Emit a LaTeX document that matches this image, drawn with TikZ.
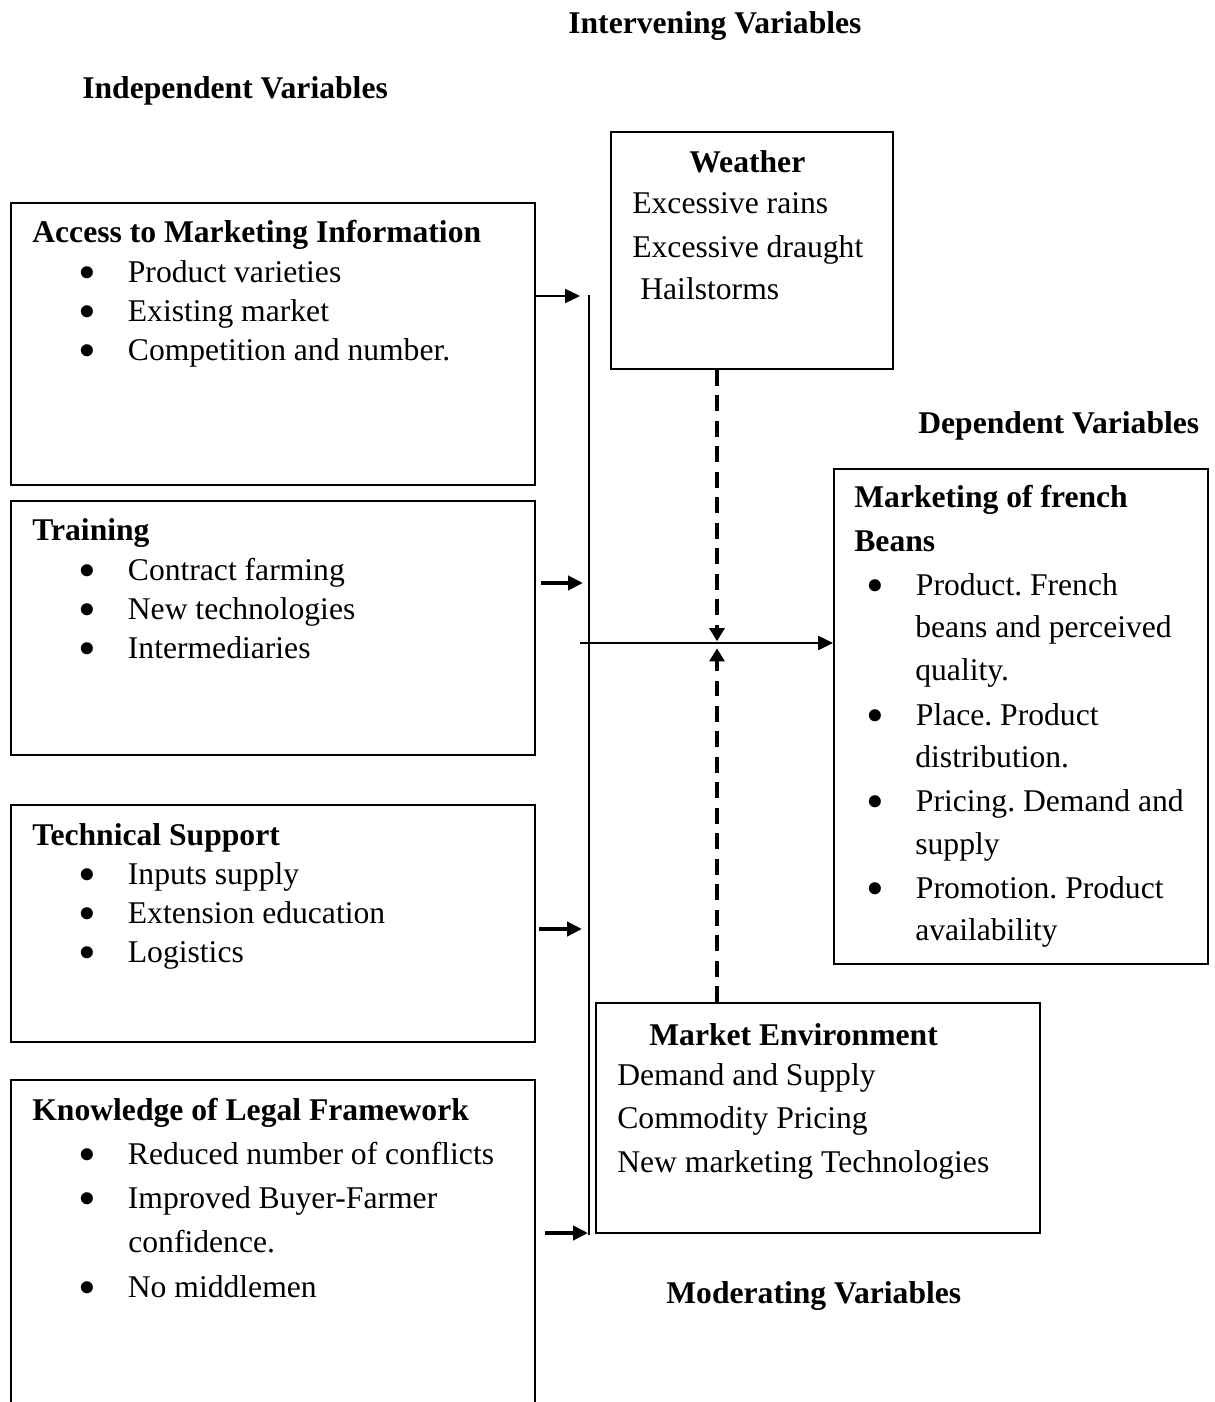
\documentclass[tikz,border=0pt]{standalone}
\usepackage{fontspec}
\usepackage{graphicx}
\setmainfont{Liberation Serif}
\usetikzlibrary{arrows.meta,fit}
\frenchspacing
\newcommand{\bul}{\makebox[26.5pt][l]{\hspace{-1.85pt}\smash{\raisebox{-4pt}{\scalebox{1.6}{\textbullet}}}}}

\begin{document}
\begin{tikzpicture}[x=0.02cm,y=-0.02cm,
		every node/.style={font=\fontsize{18}{22}\selectfont,inner sep=0pt},
		hd/.style={font=\fontsize{18}{22}\selectfont\bfseries},
		txt/.style={anchor=base west},
		box/.style={draw,line width=1.1pt},
		arr/.style={line width=1.1pt,-{Triangle[length=8.5pt,width=8pt]}},
		fat/.style={line width=2.3pt,-{Triangle[length=8.5pt,width=8pt]}},
		dsh/.style={line width=2.3pt,dash pattern=on 9pt off 5.5pt,-{Triangle[length=7.5pt,width=8.5pt]}}]
		\useasboundingbox (0,0) rectangle (1214,1402);

		% headings
		\node[hd,txt] (intv) at (568,34) {Intervening Variables};
		\node[hd,txt] (indv) at (82,99) {Independent Variables};
		\node[hd,txt] (depv) at (918,433) {Dependent Variables};
		\node[hd,txt] (modv) at (666,1303) {Moderating Variables};

		% boxes
		\node[box,fit={(11,203) (535,485)}] (access) {};
		\node[box,fit={(11,501) (535,755)}] (train) {};
		\node[box,fit={(11,805) (535,1042)}] (tech) {};
		\node[box,fit={(11,1080) (535,1440)}] (legal) {};
		\node[box,fit={(611,132) (893,369)}] (weather) {};
		\node[box,fit={(834,469) (1208,964)}] (depend) {};
		\node[box,fit={(596,1003) (1040,1233)}] (market) {};

		% access
		\node[hd,txt] (a0) at (32,242) {Access to Marketing Information};
		\node[txt] (a1) at (81,282) {\bul Product varieties};
		\node[txt] (a2) at (81,321) {\bul Existing market};
		\node[txt] (a3) at (81,360) {\bul Competition and number.};

		% training
		\node[hd,txt] (t0) at (32,540) {Training};
		\node[txt] (t1) at (81,580) {\bul Contract farming};
		\node[txt] (t2) at (81,619) {\bul New technologies};
		\node[txt] (t3) at (81,658) {\bul Intermediaries};

		% technical support
		\node[hd,txt] (s0) at (32,845) {Technical Support};
		\node[txt] (s1) at (81,884) {\bul Inputs supply};
		\node[txt] (s2) at (81,923) {\bul Extension education};
		\node[txt] (s3) at (81,962) {\bul Logistics};

		% legal framework
		\node[hd,txt] (k0) at (32,1120) {Knowledge of Legal Framework};
		\node[txt] (k1) at (81,1164) {\bul Reduced number of conflicts};
		\node[txt] (k2) at (81,1208) {\bul Improved Buyer-Farmer};
		\node[txt] (k3) at (128,1252) {confidence.};
		\node[txt] (k4) at (81,1297) {\bul No middlemen};

		% weather
		\node[hd,txt] (w0) at (689,173) {Weather};
		\node[txt] (w1) at (632,214) {Excessive rains};
		\node[txt] (w2) at (632,257) {Excessive draught};
		\node[txt] (w3) at (640,299) {Hailstorms};

		% dependent
		\node[hd,txt] (d0) at (854,507) {Marketing of french};
		\node[hd,txt] (d1) at (854,551) {Beans};
		\node[txt] (d2) at (869,595) {\bul Product. French};
		\node[txt] (d3) at (915,637) {beans and perceived};
		\node[txt] (d4) at (915,680) {quality.};
		\node[txt] (d5) at (869,725) {\bul Place. Product};
		\node[txt] (d6) at (915,767) {distribution.};
		\node[txt] (d7) at (869,811) {\bul Pricing. Demand and};
		\node[txt] (d8) at (915,854) {supply};
		\node[txt] (d9) at (869,898) {\bul Promotion. Product};
		\node[txt] (d10) at (915,940) {availability};

		% market environment
		\node[hd,txt] (m0) at (649,1045) {Market Environment};
		\node[txt] (m1) at (617,1085) {Demand and Supply};
		\node[txt] (m2) at (617,1128) {Commodity Pricing};
		\node[txt] (m3) at (617,1172) {New marketing Technologies};

		% connectors
		\coordinate (busT) at (589,295);
		\coordinate (busB) at (589,1235);
		\draw[line width=1.1pt] (busT) -- (busB);
		\coordinate (in1) at (580,296);
		\coordinate (in2) at (583,583);
		\coordinate (in3) at (582,929);
		\coordinate (in4) at (588,1233);
		\draw[arr] (access.east |- in1) -- (in1);
		\draw[fat,shorten <=3pt] (train.east |- in2) -- (in2);
		\draw[fat,shorten <=2pt] (tech.east |- in3) -- (in3);
		\draw[fat,shorten <=5pt] (legal.east |- in4) -- (in4);
		\coordinate (mid) at (580,643);
		\coordinate (cross) at (717,643);
		\draw[arr] (mid) -- (depend.west |- mid);
		\draw[dsh,shorten >=1pt] (weather.south -| cross) -- (cross);
		\draw[dsh,shorten >=3pt] (market.north -| cross) -- (cross);
	\end{tikzpicture}
\end{document}
